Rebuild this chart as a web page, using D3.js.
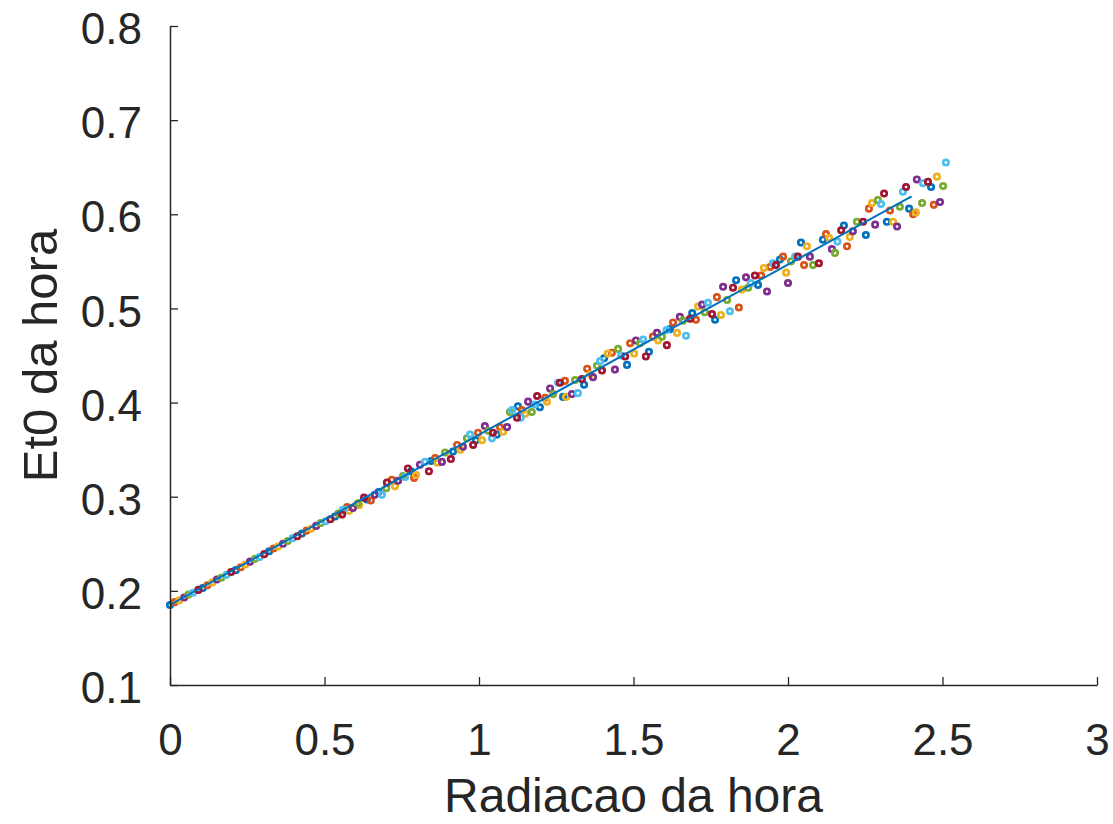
<!DOCTYPE html>
<html>
<head>
<meta charset="utf-8">
<script src="https://cdn.jsdelivr.net/npm/d3@7"></script>
<style>
    body { margin: 0; background: #fff; }
    .line { fill: none; stroke: #0072BD; stroke-width: 2px; }
</style>
</head>
<body>
<div id="div-grafico"></div>
<script>
// tick values / labels
var xTicks = [0, 0.5, 1, 1.5, 2, 2.5, 3];
var xTickLabels = ["0", "0.5", "1", "1.5", "2", "2.5", "3"];
var yTicks = [0.1, 0.2, 0.3, 0.4, 0.5, 0.6, 0.7, 0.8];
var yTickLabels = ["0.1", "0.2", "0.3", "0.4", "0.5", "0.6", "0.7", "0.8"];

// one series per colour
var azulX = [0.000, 0.106, 0.213, 0.321, 0.427, 0.534, 0.637, 0.675, 0.780, 0.845, 0.916, 0.990, 1.058, 1.126, 1.197, 1.272, 1.340, 1.405, 1.479, 1.550, 1.618, 1.690, 1.764, 1.832, 1.903, 1.974, 2.042, 2.113, 2.181, 2.252, 2.320, 2.392, 2.463];
var azulY = [0.185, 0.203, 0.222, 0.242, 0.261, 0.279, 0.297, 0.305, 0.327, 0.338, 0.348, 0.360, 0.366, 0.396, 0.395, 0.406, 0.419, 0.447, 0.440, 0.454, 0.478, 0.495, 0.488, 0.530, 0.525, 0.552, 0.570, 0.573, 0.588, 0.578, 0.592, 0.606, 0.629];

var laranjaX = [0.015, 0.121, 0.229, 0.335, 0.442, 0.573, 0.650, 0.718, 0.790, 0.858, 0.929, 0.997, 1.068, 1.139, 1.214, 1.278, 1.350, 1.430, 1.489, 1.563, 1.628, 1.702, 1.770, 1.841, 1.913, 1.942, 1.984, 2.052, 2.123, 2.191, 2.262, 2.330, 2.405, 2.472];
var laranjaY = [0.188, 0.206, 0.225, 0.245, 0.264, 0.289, 0.296, 0.318, 0.320, 0.341, 0.355, 0.368, 0.374, 0.392, 0.405, 0.423, 0.436, 0.453, 0.463, 0.470, 0.485, 0.488, 0.512, 0.501, 0.535, 0.544, 0.555, 0.546, 0.579, 0.566, 0.606, 0.604, 0.600, 0.610];

var amareloX = [0.030, 0.137, 0.244, 0.350, 0.457, 0.580, 0.612, 0.728, 0.796, 0.866, 0.940, 1.010, 1.078, 1.150, 1.220, 1.282, 1.360, 1.417, 1.502, 1.580, 1.641, 1.709, 1.783, 1.851, 1.922, 1.994, 2.061, 2.133, 2.200, 2.272, 2.340, 2.414, 2.482];
var amareloY = [0.190, 0.209, 0.228, 0.247, 0.266, 0.285, 0.291, 0.311, 0.323, 0.336, 0.350, 0.360, 0.369, 0.388, 0.401, 0.406, 0.430, 0.452, 0.452, 0.466, 0.474, 0.502, 0.493, 0.520, 0.543, 0.538, 0.566, 0.575, 0.576, 0.612, 0.592, 0.602, 0.640];

var roxoX = [0.046, 0.152, 0.259, 0.366, 0.473, 0.592, 0.663, 0.738, 0.809, 0.880, 0.948, 1.019, 1.091, 1.159, 1.230, 1.301, 1.369, 1.440, 1.508, 1.576, 1.650, 1.722, 1.790, 1.864, 1.932, 2.000, 2.071, 2.142, 2.210, 2.282, 2.353, 2.417, 2.492];
var roxoY = [0.193, 0.212, 0.231, 0.250, 0.269, 0.288, 0.302, 0.317, 0.334, 0.337, 0.353, 0.375, 0.374, 0.401, 0.415, 0.409, 0.427, 0.435, 0.466, 0.474, 0.491, 0.504, 0.523, 0.533, 0.518, 0.527, 0.555, 0.563, 0.582, 0.589, 0.587, 0.637, 0.613];

var verdeX = [0.060, 0.166, 0.275, 0.381, 0.488, 0.545, 0.608, 0.700, 0.754, 0.890, 0.961, 1.030, 1.100, 1.171, 1.240, 1.311, 1.382, 1.450, 1.521, 1.592, 1.660, 1.731, 1.803, 1.871, 2.010, 2.081, 2.152, 2.223, 2.291, 2.362, 2.434, 2.502];
var verdeY = [0.196, 0.214, 0.234, 0.253, 0.272, 0.282, 0.293, 0.309, 0.322, 0.347, 0.362, 0.370, 0.390, 0.390, 0.409, 0.424, 0.439, 0.457, 0.463, 0.470, 0.487, 0.496, 0.509, 0.522, 0.550, 0.546, 0.559, 0.592, 0.615, 0.608, 0.612, 0.630];

var celesteX = [0.075, 0.183, 0.290, 0.397, 0.503, 0.560, 0.686, 0.761, 0.825, 0.971, 1.042, 1.107, 1.135, 1.181, 1.256, 1.320, 1.392, 1.460, 1.531, 1.607, 1.670, 1.741, 1.812, 1.880, 1.951, 2.023, 2.160, 2.301, 2.372, 2.437, 2.511];
var celesteY = [0.198, 0.217, 0.236, 0.256, 0.274, 0.286, 0.302, 0.321, 0.337, 0.366, 0.362, 0.392, 0.384, 0.398, 0.421, 0.410, 0.444, 0.450, 0.467, 0.477, 0.471, 0.506, 0.497, 0.527, 0.548, 0.555, 0.571, 0.611, 0.624, 0.633, 0.655];

var vinhoX = [0.092, 0.198, 0.305, 0.412, 0.519, 0.557, 0.628, 0.702, 0.770, 0.838, 0.909, 0.981, 1.045, 1.123, 1.188, 1.262, 1.333, 1.398, 1.473, 1.540, 1.608, 1.683, 1.754, 1.822, 1.893, 1.961, 2.032, 2.100, 2.172, 2.243, 2.311, 2.382, 2.453];
var vinhoY = [0.201, 0.220, 0.239, 0.258, 0.276, 0.281, 0.299, 0.315, 0.330, 0.327, 0.340, 0.355, 0.368, 0.384, 0.407, 0.421, 0.425, 0.434, 0.449, 0.449, 0.461, 0.489, 0.494, 0.522, 0.535, 0.546, 0.555, 0.548, 0.583, 0.592, 0.622, 0.629, 0.6345];

// linear fit drawn over the points
var ajusteX = [0, 2.4];
var ajusteY = [0.185, 0.619];

var series = [
    { x: azulX, y: azulY, cor: "#0072BD" },
    { x: laranjaX, y: laranjaY, cor: "#D95319" },
    { x: amareloX, y: amareloY, cor: "#EDB120" },
    { x: roxoX, y: roxoY, cor: "#7E2F8E" },
    { x: verdeX, y: verdeY, cor: "#77AC30" },
    { x: celesteX, y: celesteY, cor: "#4DBEEE" },
    { x: vinhoX, y: vinhoY, cor: "#A2142F" }
];

// dimensions and margins of the graph
var margin = { top: 26, right: 16, bottom: 139, left: 170 },
    width = 1113 - margin.left - margin.right,
    height = 824 - margin.top - margin.bottom;

var x = d3.scaleLinear().domain([0, 3]).range([0, width]);
var y = d3.scaleLinear().domain([0.1, 0.8]).range([height, 0]);

var svg = d3.select("#div-grafico").append("svg")
    .attr("width", 1113)
    .attr("height", 824)
    .style("font-family", "'Liberation Sans', Arial, Helvetica, sans-serif")
    .append("g")
    .attr("transform", "translate(" + margin.left + "," + margin.top + ")");

// scatter points
series.forEach(function (s) {
    var pts = s.x.map(function (v, i) { return { x: v, y: s.y[i] }; });
    svg.append("g")
        .selectAll("circle")
        .data(pts)
        .enter().append("circle")
        .attr("cx", function (d) { return x(d.x); })
        .attr("cy", function (d) { return y(d.y); })
        .attr("r", 2.7)
        .attr("fill", "none")
        .attr("stroke", s.cor)
        .attr("stroke-width", 2.7);
});

// fit line
var valueline = d3.line()
    .x(function (d) { return x(d[0]); })
    .y(function (d) { return y(d[1]); });

svg.append("path")
    .data([ajusteX.map(function (v, i) { return [v, ajusteY[i]]; })])
    .attr("class", "line")
    .attr("d", valueline);

// X axis (ticks inside)
var gx = svg.append("g")
    .attr("transform", "translate(0," + height + ")")
    .call(d3.axisBottom(x)
        .tickValues(xTicks)
        .tickFormat(function (d, i) { return xTickLabels[i]; })
        .tickSizeInner(-8)
        .tickSizeOuter(0)
        .tickPadding(39));

// Y axis
var gy = svg.append("g")
    .call(d3.axisLeft(y)
        .tickValues(yTicks)
        .tickFormat(function (d, i) { return yTickLabels[i]; })
        .tickSizeInner(-8)
        .tickSizeOuter(0)
        .tickPadding(28));

[gx, gy].forEach(function (g) {
    g.select(".domain").attr("stroke", "#262626").attr("stroke-width", 1.5);
    g.selectAll(".tick line").attr("stroke", "#262626").attr("stroke-width", 1.3);
    g.selectAll(".tick text")
        .attr("fill", "#262626")
        .style("font-size", "44px")
        .style("font-family", "'Liberation Sans', Arial, Helvetica, sans-serif");
});
gy.selectAll(".tick text").attr("dy", "0.4em");

// axis titles
svg.append("text")
    .attr("x", width / 2)
    .attr("y", height + 127)
    .attr("text-anchor", "middle")
    .attr("fill", "#262626")
    .style("font-size", "48px")
    .text("Radiacao da hora");

svg.append("text")
    .attr("transform", "rotate(-90)")
    .attr("x", -height / 2)
    .attr("y", -113)
    .attr("text-anchor", "middle")
    .attr("fill", "#262626")
    .style("font-size", "49px")
    .text("Et0 da hora");
</script>
</body>
</html>
